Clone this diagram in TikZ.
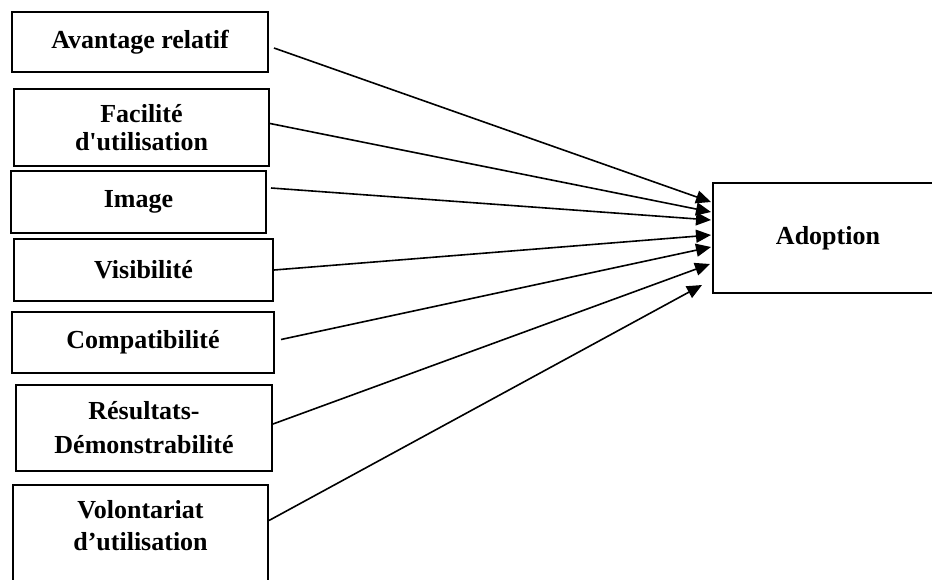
\documentclass[tikz,border=0pt]{standalone}
\usepackage{fontspec}
\setmainfont{Liberation Serif}
\usetikzlibrary{calc}
\usetikzlibrary{arrows.meta}
\usetikzlibrary{positioning}

\tikzset{
    factor/.style={draw=black, line width=1pt, align=center, inner sep=0pt, font=\fontsize{13}{14}\selectfont\bfseries},
    link/.style={line width=0.8pt, -{Triangle[length=7.5pt, width=6.5pt]}}
}

\begin{document}
\begin{tikzpicture}[x=0.5pt, y=-0.5pt]
                \useasboundingbox (0, 0) rectangle (932, 579);
                \node[factor, minimum width=128pt, minimum height=30pt] (avantage) at (140, 42) {Avantage relatif};
                \node[factor, minimum width=127.5pt, minimum height=38.5pt] (facilite) at (141.5, 127.5) {Facilité\\d\textquotesingle utilisation};
                \node[factor, minimum width=127.5pt, minimum height=31pt] (image) at (138.5, 202) {Image};
                \node[factor, minimum width=129.5pt, minimum height=31pt] (visibilite) at (143.5, 270) {Visibilité};
                \node[factor, minimum width=131pt, minimum height=30.5pt] (compatibilite) at (143, 342.5) {Compatibilité};
                \node[factor, minimum width=128pt, minimum height=43pt] (resultats) at (144, 428) {Résultats-\\[3pt]Démonstrabilité};
                \node[factor, minimum width=127.5pt, minimum height=57.5pt] (volontariat) at (140.5, 542.5) {};
                \node[factor, draw=none] (volontariat-text) at (140.5, 526) {Volontariat\\[2pt]d’utilisation};
                \node[factor, minimum width=115pt, minimum height=55pt] (adoption) at (828, 238) {Adoption};
                \draw[link] ($(avantage.east)+(5, 6)$) -- ($(adoption.west)+(-1, -36)$);
                \draw[link] ($(facilite.east)+(0, -4)$) -- ($(adoption.west)+(-1, -26)$);
                \draw[link] ($(image.east)+(4, -14)$) -- ($(adoption.west)+(-1, -18)$);
                \draw[link] (visibilite.east) -- ($(adoption.west)+(-1, -3)$);
                \draw[link] ($(compatibilite.east)+(6, -3)$) -- ($(adoption.west)+(-1, 9)$);
                \draw[link] ($(resultats.east)+(0, -4)$) -- ($(adoption.west)+(-2, 26)$);
                \draw[link] ($(volontariat.east)+(0, -22)$) -- ($(adoption.west)+(-10, 47)$);
            \end{tikzpicture}
\end{document}
